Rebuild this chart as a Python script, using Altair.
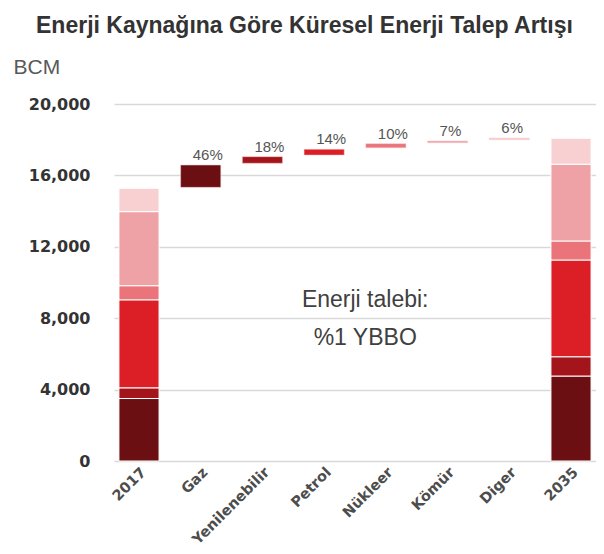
import altair as alt
import pandas as pd

categories = ["2017", "Gaz", "Yenilenebilir", "Petrol", "Nükleer", "Kömür", "Diger", "2035"]
sources = ["Gaz", "Yenilenebilir", "Petrol", "Nükleer", "Kömür", "Diger"]
colors = ["#6b0f12", "#a3151b", "#dc1f26", "#ea747a", "#efa2a5", "#f8d0d2"]
seg_2017 = [3500, 600, 4930, 790, 4150, 1310]
seg_2035 = [4760, 1080, 5420, 1065, 4300, 1455]
wf_start = [15330, 16680, 17140, 17550, 17830, 18000]
wf_end = [16580, 17050, 17460, 17780, 17930, 18090]
pct_labels = ["46%", "18%", "14%", "10%", "7%", "6%"]
note_lines = ["Enerji talebi:", "%1 YBBO"]
note_y = [8610, 6500]
y_ticks = [0, 4000, 8000, 12000, 16000, 20000]

rows = []
for cat, segs in (("2017", seg_2017), ("2035", seg_2035)):
    base = 0
    for i, (s, v) in enumerate(zip(sources, segs)):
        rows.append({"cat": cat, "src": s, "y0": base, "y1": base + v, "ord": i})
        base += v
stack_df = pd.DataFrame(rows)
wf_df = pd.DataFrame({"cat": sources, "src": sources, "y0": wf_start, "y1": wf_end})

labels_df = pd.DataFrame({"cat": sources, "y": wf_end, "t": pct_labels})
note_df = pd.DataFrame({"cat": ["Petrol"] * 2, "y": note_y, "t": note_lines})

xscale = alt.Scale(domain=categories, paddingInner=0.35, paddingOuter=0.08)
yscale = alt.Scale(domain=[0, 20000], nice=False)
cscale = alt.Scale(domain=sources, range=colors)

stacks = alt.Chart(stack_df).mark_bar(stroke="white", strokeWidth=1).encode(
    x=alt.X("cat:N", scale=xscale, sort=categories,
            axis=alt.Axis(title=None, labelAngle=-45, labelFont="DejaVu Sans",
                          labelFontWeight="bold", labelFontSize=14.5, labelColor="#4d4d4d",
                          domain=False, ticks=False, labelPadding=4)),
    y=alt.Y("y0:Q", scale=yscale,
            axis=alt.Axis(values=y_ticks, format=",d", title="BCM", titleAngle=0,
                          titleAlign="left", titleBaseline="alphabetic", titleX=-101, titleY=-31,
                          titleFont="Liberation Sans", titleFontWeight="normal", titleFontSize=21,
                          titleColor="#595959",
                          labelFont="DejaVu Sans", labelFontWeight="bold", labelFontSize=16,
                          labelColor="#333333", labelPadding=24, ticks=False, domain=False,
                          gridColor="#d9d9d9", gridWidth=1.5)),
    y2="y1:Q",
    color=alt.Color("src:N", scale=cscale, legend=None),
    order="ord:Q",
)

waterfall = alt.Chart(wf_df).mark_bar(stroke="#f3c9cb", strokeWidth=0.5).encode(
    x=alt.X("cat:N", scale=xscale, sort=categories),
    y=alt.Y("y0:Q", scale=yscale),
    y2="y1:Q",
    color=alt.Color("src:N", scale=cscale, legend=None),
)

pct = alt.Chart(labels_df).mark_text(align="left", baseline="bottom", dx=-8, dy=-2,
                                     font="Liberation Sans", fontSize=15, color="#555555").encode(
    x=alt.X("cat:N", scale=xscale, sort=categories),
    y=alt.Y("y:Q", scale=yscale),
    text="t:N",
)

note = alt.Chart(note_df).mark_text(align="center", baseline="alphabetic", dx=21,
                                    font="Liberation Sans", fontSize=23, color="#404040").encode(
    x=alt.X("cat:N", scale=xscale, sort=categories, bandPosition=1),
    y=alt.Y("y:Q", scale=yscale),
    text="t:N",
)

chart = alt.layer(stacks, waterfall, pct, note).properties(
    width=482, height=357,
    title=alt.Title("Enerji Kaynağına Göre Küresel Enerji Talep Artışı", anchor="start",
                    frame="group", dx=-78, offset=18, font="Liberation Sans",
                    fontSize=23, fontWeight="bold", color="#333333"),
    autosize="none",
    padding={"left": 106, "top": 96, "right": 0, "bottom": 90},
).configure_view(stroke=None)

chart.save("out.html", embed_options={"renderer": "svg", "actions": False})
